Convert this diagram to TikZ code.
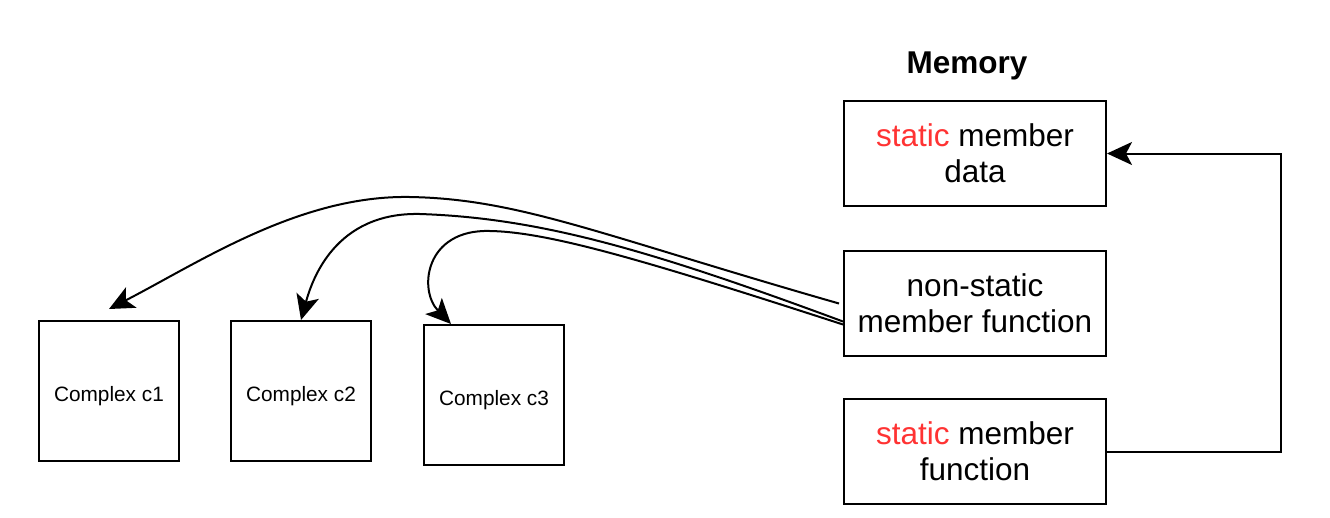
\documentclass[tikz,border=0pt]{standalone}
\usepackage{fontspec}
\setmainfont{Liberation Sans}
\usetikzlibrary{arrows.meta,positioning}

\definecolor{keyred}{HTML}{FF3333}
\newcommand{\kw}[1]{\textcolor{keyred}{#1}}

\tikzset{
	membox/.style={draw, line width=2pt, minimum width=262pt, minimum height=105pt, align=center,
		font=\fontsize{31.5}{36}\selectfont, inner sep=0pt},
	objbox/.style={draw, line width=2pt, minimum width=140pt, minimum height=140pt,
		font=\fontsize{20.8}{24}\selectfont, inner sep=0pt, text height=21pt, text depth=0pt},
	link/.style={line width=2pt, arrows={-Stealth[length=25pt, width=23pt, inset=6pt]}}
}

\begin{document}
\begin{tikzpicture}[x=1pt, y=-1pt, node distance=192pt, on grid]
				\useasboundingbox (0,0) rectangle (1330,517);
				% memory column
				\node[font=\bfseries\fontsize{31.5}{36}\selectfont] (mem) at (967,66) {Memory};
				\node[membox] (sdata) at (975,153.5) {\kw{static} member\\data};
				\node[membox] (nsfunc) [below=150pt of sdata] {non-static\\member function};
				\node[membox] (sfunc) [below=148pt of nsfunc] {\kw{static} member\\function};
				% objects
				\node[objbox] (c1) at (109,391) {Complex c1};
				\node[objbox] (c2) [right=of c1] {Complex c2};
				\node[objbox] (c3) [right=of c2, xshift=1pt, yshift=-4pt] {Complex c3};
				
				\coordinate (back) at (1281,0);
				\draw[link] (sfunc.east) -- (sfunc.east -| back) -- (sdata.east -| back) -- (sdata.east);
				
				\draw[link] ([xshift=-4pt]nsfunc.west) .. controls (600,235) and (520,199) .. (410,197)
					.. controls (300,195) and (200,262) .. ([yshift=11pt]c1.north);
				\draw[link] ([yshift=-18pt]nsfunc.west) .. controls (650,250) and (540,218) .. (420,214)
					.. controls (335,212) and (312,280) .. (c2.north);
				\draw[link] ([yshift=-21pt]nsfunc.west) .. controls (650,262) and (550,232) .. (490,231)
					.. controls (425,229) and (418,290) .. ([xshift=28pt]c3.north west);
			\end{tikzpicture}
\end{document}
